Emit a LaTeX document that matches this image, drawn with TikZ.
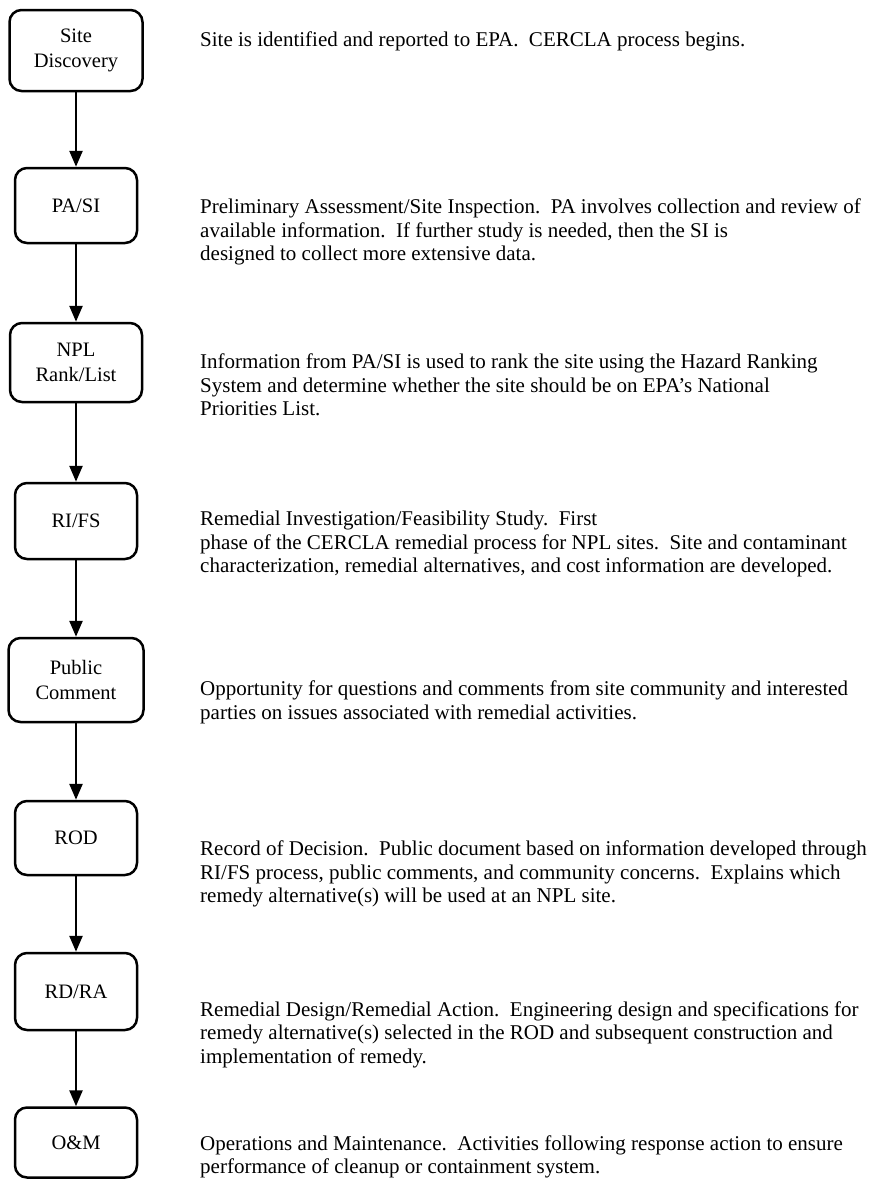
\documentclass[tikz,border=0pt]{standalone}
\usepackage{fontspec}
\setmainfont{Liberation Serif}
\usetikzlibrary{arrows.meta, positioning}
\tikzset{
    stagenode/.style = {draw, rectangle, rounded corners=12pt, line width=2.5pt, inner sep=0pt,
      node distance=0em, minimum width=122pt, align=center, font=\fontsize{20.5}{25}\selectfont},
    textnode/.style  = {draw=none, fill=none, rectangle, inner sep=0pt, anchor=north west,
      node distance=0em, align=left, font=\fontsize{21}{23.5}\selectfont},
    connect/.style = {black, line width=2.5pt, -{Triangle[width=13pt,length=16pt]}}
}

\begin{document}
\begin{tikzpicture}[x=1pt, y=1pt, node distance=0em]
\useasboundingbox (0,0) rectangle (874,-1179);
% stages
\node [name=sd, stagenode, minimum width=133pt, minimum height=81pt] at (76,-50.5) {Site\\Discovery};
\node [name=pasi, stagenode, minimum height=75pt, below of = sd, yshift=-155pt] {PA/SI};
\node [name=npl, stagenode, minimum width=132pt, minimum height=79pt, below of = pasi, yshift=-157pt] {NPL\\Rank/List};
\node [name=rifs, stagenode, minimum height=76pt, below of = npl, yshift=-158.5pt] {RI/FS};
\node [name=pc, stagenode, minimum width=135pt, minimum height=84pt, below of = rifs, yshift=-159pt] {Public\\Comment};
\node [name=rod, stagenode, minimum height=74pt, below of = pc, yshift=-158pt] {ROD};
\node [name=rdra, stagenode, minimum height=77pt, below of = rod, yshift=-153.5pt] {RD/RA};
\node [name=om, stagenode, minimum height=70pt, below of = rdra, yshift=-151pt] {O\&M};
% descriptions
\node [name=sdtext, right of = sd, textnode, xshift=124pt, yshift=18.5pt]
  {Site is identified and reported to EPA.\ \ CERCLA process begins.};
\node [name=pasitext, right of = pasi, textnode, xshift=124pt, yshift=6.5pt]
  {Preliminary Assessment/Site Inspection.\ \ PA involves collection and review of\\
   available information.\ \ If further study is needed, then the SI is\\
   designed to collect more extensive data.};
\node [name=npltext, right of = npl, textnode, xshift=124pt, yshift=8.5pt]
  {Information from PA/SI is used to rank the site using the Hazard Ranking\\
   System and determine whether the site should be on EPA's National\\
   Priorities List.};
\node [name=rifstext, right of = rifs, textnode, xshift=124pt, yshift=10pt]
  {Remedial Investigation/Feasibility Study.\ \ First\\
   phase of the CERCLA remedial process for NPL sites.\ \ Site and contaminant\\
   characterization, remedial alternatives, and cost information are developed.};
\node [name=pctext, right of = pc, textnode, xshift=124pt, yshift=-1pt]
  {Opportunity for questions and comments from site community and interested\\
   parties on issues associated with remedial activities.};
\node [name=rodtext, right of = rod, textnode, xshift=124pt, yshift=-3pt]
  {Record of Decision.\ \ Public document based on information developed through\\
   RI/FS process, public comments, and community concerns.\ \ Explains which\\
   remedy alternative(s) will be used at an NPL site.};
\node [name=rdratext, right of = rdra, textnode, xshift=124pt, yshift=-9.5pt]
  {Remedial Design/Remedial Action.\ \ Engineering design and specifications for\\
   remedy alternative(s) selected in the ROD and subsequent construction and\\
   implementation of remedy.};
\node [name=omtext, right of = om, textnode, xshift=124pt, yshift=7.5pt]
  {Operations and Maintenance.\ \ Activities following response action to ensure\\
   performance of cleanup or containment system.};
% flow
\draw [connect] (sd) -- (pasi);
\draw [connect] (pasi) -- (npl);
\draw [connect] (npl) -- (rifs);
\draw [connect] (rifs) -- (pc);
\draw [connect] (pc) -- (rod);
\draw [connect] (rod) -- (rdra);
\draw [connect] (rdra) -- (om);
\end{tikzpicture}
\end{document}
